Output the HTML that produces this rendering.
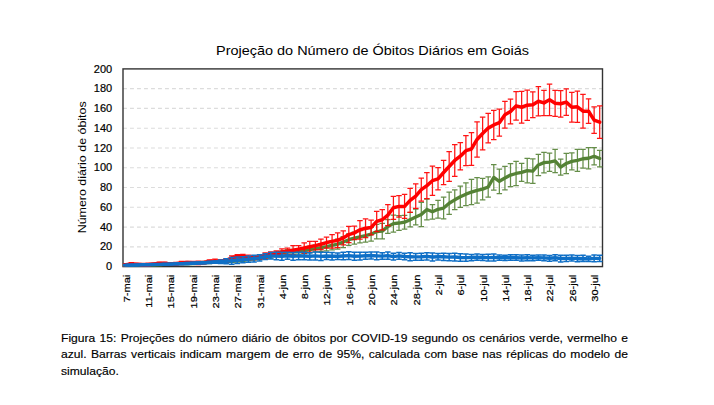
<!DOCTYPE html>
<html><head><meta charset="utf-8"><title>Figura 15</title>
<style>
html,body{margin:0;padding:0;background:#fff;}
body{width:714px;height:405px;position:relative;overflow:hidden;font-family:"Liberation Sans",sans-serif;}
svg text{font-family:"Liberation Sans",sans-serif;fill:#000;}
.yl{font-size:11px;stroke:#000;stroke-width:0.2px;}
.xl{font-size:9.8px;stroke:#000;stroke-width:0.2px;}
.yt{font-size:11.5px;}
.tt{font-size:13.6px;}
.cap{position:absolute;left:61.2px;top:329.5px;width:515.45px;font-size:11px;line-height:16.55px;color:#000;-webkit-text-stroke:0.15px #000;transform:scaleX(1.1);transform-origin:0 0;}
.cap div{text-align:justify;text-align-last:justify;white-space:nowrap;}
.cap div.last{text-align:left;text-align-last:left;}
</style></head><body>
<svg width="714" height="405" viewBox="0 0 714 405" style="position:absolute;left:0;top:0">
<line x1="123.0" x2="602.5" y1="246.83" y2="246.83" stroke="#dcdcdc" stroke-width="1.15" stroke-dasharray="3.9 3.1"/>
<line x1="123.0" x2="602.5" y1="227.06" y2="227.06" stroke="#dcdcdc" stroke-width="1.15" stroke-dasharray="3.9 3.1"/>
<line x1="123.0" x2="602.5" y1="207.29" y2="207.29" stroke="#dcdcdc" stroke-width="1.15" stroke-dasharray="3.9 3.1"/>
<line x1="123.0" x2="602.5" y1="187.52" y2="187.52" stroke="#dcdcdc" stroke-width="1.15" stroke-dasharray="3.9 3.1"/>
<line x1="123.0" x2="602.5" y1="167.75" y2="167.75" stroke="#dcdcdc" stroke-width="1.15" stroke-dasharray="3.9 3.1"/>
<line x1="123.0" x2="602.5" y1="147.98" y2="147.98" stroke="#dcdcdc" stroke-width="1.15" stroke-dasharray="3.9 3.1"/>
<line x1="123.0" x2="602.5" y1="128.21" y2="128.21" stroke="#dcdcdc" stroke-width="1.15" stroke-dasharray="3.9 3.1"/>
<line x1="123.0" x2="602.5" y1="108.44" y2="108.44" stroke="#dcdcdc" stroke-width="1.15" stroke-dasharray="3.9 3.1"/>
<line x1="123.0" x2="602.5" y1="88.67" y2="88.67" stroke="#dcdcdc" stroke-width="1.15" stroke-dasharray="3.9 3.1"/>
<rect x="123.0" y="68.9" width="479.5" height="197.70" fill="none" stroke="#333" stroke-width="1.4"/>
<path d="M125.79 264.22V266.02M123.04 264.22H128.54M123.04 266.02H128.54M131.36 263.96V265.78M128.61 263.96H134.11M128.61 265.78H134.11M136.94 263.81V265.66M134.19 263.81H139.69M134.19 265.66H139.69M142.51 263.79V265.67M139.76 263.79H145.26M139.76 265.67H145.26M148.09 263.83V265.74M145.34 263.83H150.84M145.34 265.74H150.84M153.67 263.78V265.74M150.92 263.78H156.42M150.92 265.74H156.42M159.24 263.58V265.57M156.49 263.58H161.99M156.49 265.57H161.99M164.82 263.25V265.28M162.07 263.25H167.57M162.07 265.28H167.57M170.39 262.90V264.98M167.64 262.90H173.14M167.64 264.98H173.14M175.97 262.65V264.79M173.22 262.65H178.72M173.22 264.79H178.72M181.54 262.53V264.73M178.79 262.53H184.29M178.79 264.73H184.29M187.12 262.45V264.71M184.37 262.45H189.87M184.37 264.71H189.87M192.69 262.28V264.60M189.94 262.28H195.44M189.94 264.60H195.44M198.27 261.93V264.33M195.52 261.93H201.02M195.52 264.33H201.02M203.85 261.45V263.93M201.10 261.45H206.60M201.10 263.93H206.60M209.42 260.94V263.50M206.67 260.94H212.17M206.67 263.50H212.17M215.00 260.51V263.17M212.25 260.51H217.75M212.25 263.17H217.75M220.57 260.19V262.96M217.82 260.19H223.32M217.82 262.96H223.32M226.15 259.90V262.78M223.40 259.90H228.90M223.40 262.78H228.90M231.72 259.48V262.49M228.97 259.48H234.47M228.97 262.49H234.47M237.30 258.88V262.02M234.55 258.88H240.05M234.55 262.02H240.05M242.88 258.11V261.40M240.12 258.11H245.62M240.12 261.40H245.62M248.45 257.29V260.75M245.70 257.29H251.20M245.70 260.75H251.20M254.03 256.53V260.17M251.28 256.53H256.78M251.28 260.17H256.78M259.60 255.84V259.68M256.85 255.84H262.35M256.85 259.68H262.35M265.18 255.14V259.19M262.43 255.14H267.93M262.43 259.19H267.93M270.75 253.82V258.22M268.00 253.82H273.50M268.00 258.22H273.50M276.33 251.87V255.83M273.58 251.87H279.08M273.58 255.83H279.08M281.90 250.78V255.13M279.15 250.78H284.65M279.15 255.13H284.65M287.48 249.60V254.34M284.73 249.60H290.23M284.73 254.34H290.23M293.06 249.30V254.44M290.31 249.30H295.81M290.31 254.44H295.81M298.63 248.51V254.05M295.88 248.51H301.38M295.88 254.05H301.38M304.21 247.62V253.55M301.46 247.62H306.96M301.46 253.55H306.96M309.78 246.43V252.76M307.03 246.43H312.53M307.03 252.76H312.53M315.36 245.15V251.87M312.61 245.15H318.11M312.61 251.87H318.11M320.93 243.86V251.38M318.18 243.86H323.68M318.18 251.38H323.68M326.51 242.58V250.88M323.76 242.58H329.26M323.76 250.88H329.26M332.08 240.90V249.99M329.33 240.90H334.83M329.33 249.99H334.83M337.66 239.22V249.10M334.91 239.22H340.41M334.91 249.10H340.41M343.24 236.65V247.52M340.49 236.65H345.99M340.49 247.52H345.99M348.81 233.98V245.45M346.06 233.98H351.56M346.06 245.45H351.56M354.39 232.20V244.06M351.64 232.20H357.14M351.64 244.06H357.14M359.96 230.52V242.97M357.21 230.52H362.71M357.21 242.97H362.71M365.54 229.04V242.09M362.79 229.04H368.29M362.79 242.09H368.29M371.11 227.26V241.10M368.36 227.26H373.86M368.36 241.10H373.86M376.69 224.29V238.92M373.94 224.29H379.44M373.94 238.92H379.44M382.26 223.40V238.82M379.51 223.40H385.01M379.51 238.82H385.01M387.84 219.55V233.39M385.09 219.55H390.59M385.09 233.39H390.59M393.42 215.20V232.00M390.67 215.20H396.17M390.67 232.00H396.17M398.99 215.59V230.42M396.24 215.59H401.74M396.24 230.42H401.74M404.57 215.30V229.14M401.82 215.30H407.32M401.82 229.14H407.32M410.14 212.43V226.86M407.39 212.43H412.89M407.39 226.86H412.89M415.72 209.17V224.98M412.97 209.17H418.47M412.97 224.98H418.47M421.29 202.45V226.57M418.54 202.45H424.04M418.54 226.57H424.04M426.87 199.18V219.75M424.12 199.18H429.62M424.12 219.75H429.62M432.44 204.62V219.05M429.69 204.62H435.19M429.69 219.05H435.19M438.02 200.37V218.16M435.27 200.37H440.77M435.27 218.16H440.77M443.60 197.21V218.95M440.85 197.21H446.35M440.85 218.95H446.35M449.17 192.17V214.31M446.42 192.17H451.92M446.42 214.31H451.92M454.75 189.89V209.66M452.00 189.89H457.50M452.00 209.66H457.50M460.32 186.04V207.39M457.57 186.04H463.07M457.57 207.39H463.07M465.90 182.78V205.51M463.15 182.78H468.65M463.15 205.51H468.65M471.47 179.41V204.72M468.72 179.41H474.22M468.72 204.72H474.22M477.05 177.54V203.24M474.30 177.54H479.80M474.30 203.24H479.80M482.62 178.43V199.78M479.88 178.43H485.38M479.88 199.78H485.38M488.20 176.84V197.01M485.45 176.84H490.95M485.45 197.01H490.95M493.78 164.69V190.19M491.03 164.69H496.53M491.03 190.19H496.53M499.35 169.04V193.55M496.60 169.04H502.10M496.60 193.55H502.10M504.93 166.27V189.79M502.18 166.27H507.68M502.18 189.79H507.68M510.50 163.50V186.63M507.75 163.50H513.25M507.75 186.63H513.25M516.08 161.42V185.54M513.33 161.42H518.83M513.33 185.54H518.83M521.65 163.40V181.39M518.90 163.40H524.40M518.90 181.39H524.40M527.23 158.26V182.97M524.48 158.26H529.98M524.48 182.97H529.98M532.81 158.95V183.27M530.06 158.95H535.56M530.06 183.27H535.56M538.38 154.41V175.56M535.63 154.41H541.13M535.63 175.56H541.13M543.96 152.43V172.79M541.21 152.43H546.71M541.21 172.79H546.71M549.53 153.12V171.31M546.78 153.12H552.28M546.78 171.31H552.28M555.11 149.27V172.59M552.36 149.27H557.86M552.36 172.59H557.86M560.68 159.05V175.06M557.93 159.05H563.43M557.93 175.06H563.43M566.26 153.42V173.58M563.51 153.42H569.01M563.51 173.58H569.01M571.83 152.92V169.92M569.08 152.92H574.58M569.08 169.92H574.58M577.41 149.27V171.41M574.66 149.27H580.16M574.66 171.41H580.16M582.99 149.46V168.05M580.24 149.46H585.74M580.24 168.05H585.74M588.56 147.58V168.94M585.81 147.58H591.31M585.81 168.94H591.31M594.14 147.58V164.98M591.39 147.58H596.89M591.39 164.98H596.89M599.71 150.35V166.76M596.96 150.35H602.46M596.96 166.76H602.46" stroke="#548235" stroke-width="1.25" fill="none" opacity="0.9"/>
<polyline points="125.79,265.12 131.36,264.87 136.94,264.73 142.51,264.73 148.09,264.78 153.67,264.76 159.24,264.58 164.82,264.27 170.39,263.94 175.97,263.72 181.54,263.63 187.12,263.58 192.69,263.44 198.27,263.13 203.85,262.69 209.42,262.22 215.00,261.84 220.57,261.58 226.15,261.34 231.72,260.99 237.30,260.45 242.88,259.76 248.45,259.02 254.03,258.35 259.60,257.76 265.18,257.17 270.75,256.02 276.33,253.85 281.90,252.96 287.48,251.97 293.06,251.87 298.63,251.28 304.21,250.59 309.78,249.60 315.36,248.51 320.93,247.62 326.51,246.73 332.08,245.45 337.66,244.16 343.24,242.09 348.81,239.71 354.39,238.13 359.96,236.75 365.54,235.56 371.11,234.18 376.69,231.61 382.26,231.11 387.84,226.47 393.42,223.60 398.99,223.01 404.57,222.22 410.14,219.65 415.72,217.08 421.29,214.51 426.87,209.46 432.44,211.84 438.02,209.27 443.60,208.08 449.17,203.24 454.75,199.78 460.32,196.71 465.90,194.14 471.47,192.07 477.05,190.39 482.62,189.10 488.20,186.93 493.78,177.44 499.35,181.29 504.93,178.03 510.50,175.06 516.08,173.48 521.65,172.40 527.23,170.62 532.81,171.11 538.38,164.98 543.96,162.61 549.53,162.21 555.11,160.93 560.68,167.06 566.26,163.50 571.83,161.42 577.41,160.34 582.99,158.75 588.56,158.26 594.14,156.28 599.71,158.56" stroke="#548235" stroke-width="3.3" fill="none" stroke-linejoin="round" stroke-linecap="round"/>
<path d="M125.79 263.50V265.75M123.04 263.50H128.54M123.04 265.75H128.54M131.36 262.66V265.45M128.61 262.66H134.11M128.61 265.45H134.11M136.94 263.28V265.08M134.19 263.28H139.69M134.19 265.08H139.69M142.51 263.48V265.84M139.76 263.48H145.26M139.76 265.84H145.26M148.09 263.19V266.09M145.34 263.19H150.84M145.34 266.09H150.84M153.67 263.01V264.92M150.92 263.01H156.42M150.92 264.92H156.42M159.24 262.19V264.68M156.49 262.19H161.99M156.49 264.68H161.99M164.82 262.10V265.13M162.07 262.10H167.57M162.07 265.13H167.57M170.39 262.99V265.04M167.64 262.99H173.14M167.64 265.04H173.14M175.97 262.46V265.13M173.22 262.46H178.72M173.22 265.13H178.72M181.54 261.41V264.61M178.79 261.41H184.29M178.79 264.61H184.29M187.12 261.39V263.63M184.37 261.39H189.87M184.37 263.63H189.87M192.69 261.25V264.15M189.94 261.25H195.44M189.94 264.15H195.44M198.27 261.23V264.66M195.52 261.23H201.02M195.52 264.66H201.02M203.85 261.25V263.75M201.10 261.25H206.60M201.10 263.75H206.60M209.42 259.99V263.17M206.67 259.99H212.17M206.67 263.17H212.17M215.00 259.22V262.94M212.25 259.22H217.75M212.25 262.94H217.75M220.57 259.80V262.63M217.82 259.80H223.32M217.82 262.63H223.32M226.15 258.67V262.22M223.40 258.67H228.90M223.40 262.22H228.90M231.72 255.88V260.00M228.97 255.88H234.47M228.97 260.00H234.47M237.30 254.64V257.89M234.55 254.64H240.05M234.55 257.89H240.05M242.88 254.27V258.31M240.12 254.27H245.62M240.12 258.31H245.62M248.45 255.14V259.77M245.70 255.14H251.20M245.70 259.77H251.20M254.03 255.84V259.65M251.28 255.84H256.78M251.28 259.65H256.78M259.60 254.52V259.19M256.85 254.52H262.35M256.85 259.19H262.35M265.18 252.88V258.18M262.43 252.88H267.93M262.43 258.18H267.93M270.75 251.81V256.48M268.00 251.81H273.50M268.00 256.48H273.50M276.33 250.98V256.52M273.58 250.98H279.08M273.58 256.52H279.08M281.90 248.81V255.13M279.15 248.81H284.65M279.15 255.13H284.65M287.48 248.02V254.34M284.73 248.02H290.23M284.73 254.34H290.23M293.06 245.74V254.84M290.31 245.74H295.81M290.31 254.84H295.81M298.63 245.74V252.46M295.88 245.74H301.38M295.88 252.46H301.38M304.21 242.88V253.16M301.46 242.88H306.96M301.46 253.16H306.96M309.78 241.49V252.17M307.03 241.49H312.53M307.03 252.17H312.53M315.36 241.49V249.80M312.61 241.49H318.11M312.61 249.80H318.11M320.93 239.02V249.50M318.18 239.02H323.68M318.18 249.50H323.68M326.51 237.14V248.02M323.76 237.14H329.26M323.76 248.02H329.26M332.08 234.57V248.21M329.33 234.57H334.83M329.33 248.21H334.83M337.66 232.89V247.72M334.91 232.89H340.41M334.91 247.72H340.41M343.24 230.92V244.95M340.49 230.92H345.99M340.49 244.95H345.99M348.81 226.47V242.68M346.06 226.47H351.56M346.06 242.68H351.56M354.39 226.17V239.61M351.64 226.17H357.14M351.64 239.61H357.14M359.96 220.63V239.02M357.21 220.63H362.71M357.21 239.02H362.71M365.54 218.76V237.74M362.79 218.76H368.29M362.79 237.74H368.29M371.11 220.14V234.77M368.36 220.14H373.86M368.36 234.77H373.86M376.69 211.34V231.51M373.94 211.34H379.44M373.94 231.51H379.44M382.26 209.66V229.83M379.51 209.66H385.01M379.51 229.83H385.01M387.84 204.52V225.68M385.09 204.52H390.59M385.09 225.68H390.59M393.42 196.32V219.25M390.67 196.32H396.17M390.67 219.25H396.17M398.99 195.72V217.08M396.24 195.72H401.74M396.24 217.08H401.74M404.57 194.34V218.46M401.82 194.34H407.32M401.82 218.46H407.32M410.14 188.31V212.43M407.39 188.31H412.89M407.39 212.43H412.89M415.72 183.76V208.48M412.97 183.76H418.47M412.97 208.48H418.47M421.29 178.23V201.16M418.54 178.23H424.04M418.54 201.16H424.04M426.87 172.59V198.69M424.12 172.59H429.62M424.12 198.69H429.62M432.44 166.07V195.33M429.69 166.07H435.19M429.69 195.33H435.19M438.02 167.65V189.99M435.27 167.65H440.77M435.27 189.99H440.77M443.60 160.44V184.55M440.85 160.44H446.35M440.85 184.55H446.35M449.17 151.64V181.29M446.42 151.64H451.92M446.42 181.29H451.92M454.75 144.52V176.35M452.00 144.52H457.50M452.00 176.35H457.50M460.32 142.54V169.83M457.57 142.54H463.07M457.57 169.83H463.07M465.90 135.72V165.58M463.15 135.72H468.65M463.15 165.58H468.65M471.47 132.66V165.28M468.72 132.66H474.22M468.72 165.28H474.22M477.05 121.88V157.07M474.30 121.88H479.80M474.30 157.07H479.80M482.62 117.14V149.76M479.88 117.14H485.38M479.88 149.76H485.38M488.20 113.28V142.94M485.45 113.28H490.95M485.45 142.94H490.95M493.78 110.32V139.58M491.03 110.32H496.53M491.03 139.58H496.53M499.35 109.23V136.12M496.60 109.23H502.10M496.60 136.12H502.10M504.93 101.32V128.01M502.18 101.32H507.68M502.18 128.01H507.68M510.50 99.15V123.86M507.75 99.15H513.25M507.75 123.86H513.25M516.08 91.54V120.20M513.33 91.54H518.83M513.33 120.20H518.83M521.65 91.44V123.07M518.90 91.44H524.40M518.90 123.07H524.40M527.23 90.05V120.30M524.48 90.05H529.98M524.48 120.30H529.98M532.81 91.83V117.53M530.06 91.83H535.56M530.06 117.53H535.56M538.38 86.59V115.85M535.63 86.59H541.13M535.63 115.85H541.13M543.96 90.25V115.56M541.21 90.25H546.71M541.21 115.56H546.71M549.53 84.02V115.66M546.78 84.02H552.28M546.78 115.66H552.28M555.11 90.25V116.35M552.36 90.25H557.86M552.36 116.35H557.86M560.68 90.55V117.04M557.93 90.55H563.43M557.93 117.04H563.43M566.26 88.97V115.26M563.51 88.97H569.01M563.51 115.26H569.01M571.83 92.43V122.08M569.08 92.43H574.58M569.08 122.08H574.58M577.41 91.24V122.48M574.66 91.24H580.16M574.66 122.48H580.16M582.99 94.40V128.01M580.24 94.40H585.74M580.24 128.01H585.74M588.56 98.95V123.47M585.81 98.95H591.31M585.81 123.47H591.31M594.14 106.76V133.45M591.39 106.76H596.89M591.39 133.45H596.89M599.71 105.87V138.49M596.96 105.87H602.46M596.96 138.49H602.46" stroke="#ff0000" stroke-width="1.25" fill="none" opacity="0.92"/>
<polyline points="125.79,264.62 131.36,264.06 136.94,264.18 142.51,264.66 148.09,264.64 153.67,263.97 159.24,263.44 164.82,263.62 170.39,264.01 175.97,263.80 181.54,263.01 187.12,262.51 192.69,262.70 198.27,262.95 203.85,262.50 209.42,261.58 215.00,261.08 220.57,261.22 226.15,260.45 231.72,257.94 237.30,256.27 242.88,256.29 248.45,257.46 254.03,257.75 259.60,256.86 265.18,255.53 270.75,254.14 276.33,253.75 281.90,251.97 287.48,251.18 293.06,250.29 298.63,249.10 304.21,248.02 309.78,246.83 315.36,245.64 320.93,244.26 326.51,242.58 332.08,241.39 337.66,240.31 343.24,237.93 348.81,234.57 354.39,232.89 359.96,229.83 365.54,228.25 371.11,227.46 376.69,221.43 382.26,219.75 387.84,215.10 393.42,207.78 398.99,206.40 404.57,206.40 410.14,200.37 415.72,196.12 421.29,189.69 426.87,185.64 432.44,180.70 438.02,178.82 443.60,172.49 449.17,166.46 454.75,160.44 460.32,156.18 465.90,150.65 471.47,148.97 477.05,139.48 482.62,133.45 488.20,128.11 493.78,124.95 499.35,122.67 504.93,114.67 510.50,111.50 516.08,105.87 521.65,107.25 527.23,105.18 532.81,104.68 538.38,101.22 543.96,102.90 549.53,99.84 555.11,103.30 560.68,103.79 566.26,102.11 571.83,107.25 577.41,106.86 582.99,111.21 588.56,111.21 594.14,120.10 599.71,122.18" stroke="#ff0000" stroke-width="3.5" fill="none" stroke-linejoin="round" stroke-linecap="round"/>
<path d="M125.79 264.48V265.75M123.04 264.48H128.54M123.04 265.75H128.54M131.36 264.38V265.67M128.61 264.38H134.11M128.61 265.67H134.11M136.94 264.26V265.59M134.19 264.26H139.69M134.19 265.59H139.69M142.51 264.14V265.50M139.76 264.14H145.26M139.76 265.50H145.26M148.09 264.00V265.40M145.34 264.00H150.84M145.34 265.40H150.84M153.67 263.85V265.29M150.92 263.85H156.42M150.92 265.29H156.42M159.24 263.68V265.17M156.49 263.68H161.99M156.49 265.17H161.99M164.82 263.50V265.04M162.07 263.50H167.57M162.07 265.04H167.57M170.39 263.30V264.89M167.64 263.30H173.14M167.64 264.89H173.14M175.97 263.09V264.74M173.22 263.09H178.72M173.22 264.74H178.72M181.54 262.85V264.57M178.79 262.85H184.29M178.79 264.57H184.29M187.12 262.60V264.38M184.37 262.60H189.87M184.37 264.38H189.87M192.69 262.31V264.18M189.94 262.31H195.44M189.94 264.18H195.44M198.27 262.01V263.96M195.52 262.01H201.02M195.52 263.96H201.02M203.85 261.67V263.71M201.10 261.67H206.60M201.10 263.71H206.60M209.42 261.31V263.45M206.67 261.31H212.17M206.67 263.45H212.17M215.00 260.91V263.16M212.25 260.91H217.75M212.25 263.16H217.75M220.57 259.88V263.43M217.82 259.88H223.32M217.82 263.43H223.32M226.15 258.67V263.81M223.40 258.67H228.90M223.40 263.81H228.90M231.72 257.44V264.15M228.97 257.44H234.47M228.97 264.15H234.47M237.30 257.01V263.60M234.55 257.01H240.05M234.55 263.60H240.05M242.88 256.83V262.70M240.12 256.83H245.62M240.12 262.70H245.62M248.45 256.09V262.27M245.70 256.09H251.20M245.70 262.27H251.20M254.03 255.13V261.94M251.28 255.13H256.78M251.28 261.94H256.78M259.60 254.66V261.01M256.85 254.66H262.35M256.85 261.01H262.35M265.18 253.70V259.53M262.43 253.70H267.93M262.43 259.53H267.93M270.75 252.61V259.04M268.00 252.61H273.50M268.00 259.04H273.50M276.33 252.36V259.80M273.58 252.36H279.08M273.58 259.80H279.08M281.90 252.24V260.23M279.15 252.24H284.65M279.15 260.23H284.65M287.48 252.30V259.28M284.73 252.30H290.23M284.73 259.28H290.23M293.06 252.47V260.14M290.31 252.47H295.81M290.31 260.14H295.81M298.63 252.15V259.63M295.88 252.15H301.38M295.88 259.63H301.38M304.21 252.32V259.77M301.46 252.32H306.96M301.46 259.77H306.96M309.78 252.70V259.94M307.03 252.70H312.53M307.03 259.94H312.53M315.36 251.96V259.88M312.61 251.96H318.11M312.61 259.88H318.11M320.93 252.28V260.39M318.18 252.28H323.68M318.18 260.39H323.68M326.51 252.35V259.62M323.76 252.35H329.26M323.76 259.62H329.26M332.08 252.50V260.11M329.33 252.50H334.83M329.33 260.11H334.83M337.66 253.02V259.55M334.91 253.02H340.41M334.91 259.55H340.41M343.24 252.15V259.83M340.49 252.15H345.99M340.49 259.83H345.99M348.81 251.85V259.42M346.06 251.85H351.56M346.06 259.42H351.56M354.39 252.16V260.36M351.64 252.16H357.14M351.64 260.36H357.14M359.96 252.23V260.11M357.21 252.23H362.71M357.21 260.11H362.71M365.54 252.35V259.28M362.79 252.35H368.29M362.79 259.28H368.29M371.11 251.97V259.08M368.36 251.97H373.86M368.36 259.08H373.86M376.69 252.05V259.66M373.94 252.05H379.44M373.94 259.66H379.44M382.26 252.86V259.33M379.51 252.86H385.01M379.51 259.33H385.01M387.84 252.04V259.29M385.09 252.04H390.59M385.09 259.29H390.59M393.42 253.21V259.93M390.67 253.21H396.17M390.67 259.93H396.17M398.99 252.61V259.25M396.24 252.61H401.74M396.24 259.25H401.74M404.57 253.25V259.78M401.82 253.25H407.32M401.82 259.78H407.32M410.14 252.83V260.63M407.39 252.83H412.89M407.39 260.63H412.89M415.72 253.51V260.16M412.97 253.51H418.47M412.97 260.16H418.47M421.29 253.31V260.18M418.54 253.31H424.04M418.54 260.18H424.04M426.87 252.82V259.94M424.12 252.82H429.62M424.12 259.94H429.62M432.44 253.03V261.01M429.69 253.03H435.19M429.69 261.01H435.19M438.02 253.46V260.03M435.27 253.46H440.77M435.27 260.03H440.77M443.60 253.17V260.39M440.85 253.17H446.35M440.85 260.39H446.35M449.17 253.46V260.73M446.42 253.46H451.92M446.42 260.73H451.92M454.75 253.16V260.88M452.00 253.16H457.50M452.00 260.88H457.50M460.32 253.80V261.27M457.57 253.80H463.07M457.57 261.27H463.07M465.90 253.91V261.32M463.15 253.91H468.65M463.15 261.32H468.65M471.47 254.46V260.68M468.72 254.46H474.22M468.72 260.68H474.22M477.05 254.04V260.37M474.30 254.04H479.80M474.30 260.37H479.80M482.62 254.44V260.53M479.88 254.44H485.38M479.88 260.53H485.38M488.20 254.20V261.09M485.45 254.20H490.95M485.45 261.09H490.95M493.78 254.01V260.90M491.03 254.01H496.53M491.03 260.90H496.53M499.35 254.97V260.28M496.60 254.97H502.10M496.60 260.28H502.10M504.93 255.14V260.50M502.18 255.14H507.68M502.18 260.50H507.68M510.50 254.71V260.16M507.75 254.71H513.25M507.75 260.16H513.25M516.08 254.85V260.31M513.33 254.85H518.83M513.33 260.31H518.83M521.65 255.09V260.99M518.90 255.09H524.40M518.90 260.99H524.40M527.23 254.76V260.85M524.48 254.76H529.98M524.48 260.85H529.98M532.81 255.15V260.65M530.06 255.15H535.56M530.06 260.65H535.56M538.38 255.12V260.17M535.63 255.12H541.13M535.63 260.17H541.13M543.96 254.94V260.72M541.21 254.94H546.71M541.21 260.72H546.71M549.53 255.43V261.13M546.78 255.43H552.28M546.78 261.13H552.28M555.11 254.69V260.74M552.36 254.69H557.86M552.36 260.74H557.86M560.68 255.17V261.91M557.93 255.17H563.43M557.93 261.91H563.43M566.26 255.20V261.47M563.51 255.20H569.01M563.51 261.47H569.01M571.83 255.11V261.06M569.08 255.11H574.58M569.08 261.06H574.58M577.41 255.61V261.75M574.66 255.61H580.16M574.66 261.75H580.16M582.99 255.31V261.56M580.24 255.31H585.74M580.24 261.56H585.74M588.56 256.32V261.46M585.81 256.32H591.31M585.81 261.46H591.31M594.14 255.07V261.71M591.39 255.07H596.89M591.39 261.71H596.89M599.71 255.14V261.57M596.96 255.14H602.46M596.96 261.57H602.46" stroke="#0f6fc6" stroke-width="1.5" fill="none" opacity="1.0"/>
<polyline points="125.79,265.12 131.36,265.03 136.94,264.93 142.51,264.82 148.09,264.70 153.67,264.57 159.24,264.42 164.82,264.27 170.39,264.10 175.97,263.91 181.54,263.71 187.12,263.49 192.69,263.25 198.27,262.98 203.85,262.69 209.42,262.38 215.00,262.03 220.57,261.66 226.15,261.24 231.72,260.79 237.30,260.30 242.88,259.77 248.45,259.18 254.03,258.54 259.60,257.84 265.18,256.62 270.75,255.83 276.33,256.08 281.90,256.23 287.48,255.79 293.06,256.30 298.63,255.89 304.21,256.04 309.78,256.32 315.36,255.92 320.93,256.34 326.51,255.98 332.08,256.31 337.66,256.29 343.24,255.99 348.81,255.63 354.39,256.26 359.96,256.17 365.54,255.81 371.11,255.53 376.69,255.86 382.26,256.10 387.84,255.66 393.42,256.57 398.99,255.93 404.57,256.52 410.14,256.73 415.72,256.83 421.29,256.75 426.87,256.38 432.44,257.02 438.02,256.75 443.60,256.78 449.17,257.10 454.75,257.02 460.32,257.53 465.90,257.62 471.47,257.57 477.05,257.20 482.62,257.48 488.20,257.64 493.78,257.46 499.35,257.63 504.93,257.82 510.50,257.44 516.08,257.58 521.65,258.04 527.23,257.80 532.81,257.90 538.38,257.64 543.96,257.83 549.53,258.28 555.11,257.72 560.68,258.54 566.26,258.33 571.83,258.09 577.41,258.68 582.99,258.44 588.56,258.89 594.14,258.39 599.71,258.36" stroke="#0f6fc6" stroke-width="3.4" fill="none" stroke-linejoin="round" stroke-linecap="round"/>
<text x="112.2" y="270.20" text-anchor="end" class="yl">0</text>
<text x="112.2" y="250.43" text-anchor="end" class="yl">20</text>
<text x="112.2" y="230.66" text-anchor="end" class="yl">40</text>
<text x="112.2" y="210.89" text-anchor="end" class="yl">60</text>
<text x="112.2" y="191.12" text-anchor="end" class="yl">80</text>
<text x="112.2" y="171.35" text-anchor="end" class="yl">100</text>
<text x="112.2" y="151.58" text-anchor="end" class="yl">120</text>
<text x="112.2" y="131.81" text-anchor="end" class="yl">140</text>
<text x="112.2" y="112.04" text-anchor="end" class="yl">160</text>
<text x="112.2" y="92.27" text-anchor="end" class="yl">180</text>
<text x="112.2" y="72.50" text-anchor="end" class="yl">200</text>
<text transform="translate(129.69,274.7) rotate(-90) scale(1.13,1)" text-anchor="end" class="xl">7-mai</text>
<text transform="translate(151.99,274.7) rotate(-90) scale(1.13,1)" text-anchor="end" class="xl">11-mai</text>
<text transform="translate(174.29,274.7) rotate(-90) scale(1.13,1)" text-anchor="end" class="xl">15-mai</text>
<text transform="translate(196.59,274.7) rotate(-90) scale(1.13,1)" text-anchor="end" class="xl">19-mai</text>
<text transform="translate(218.90,274.7) rotate(-90) scale(1.13,1)" text-anchor="end" class="xl">23-mai</text>
<text transform="translate(241.20,274.7) rotate(-90) scale(1.13,1)" text-anchor="end" class="xl">27-mai</text>
<text transform="translate(263.50,274.7) rotate(-90) scale(1.13,1)" text-anchor="end" class="xl">31-mai</text>
<text transform="translate(285.80,274.7) rotate(-90) scale(1.13,1)" text-anchor="end" class="xl">4-jun</text>
<text transform="translate(308.11,274.7) rotate(-90) scale(1.13,1)" text-anchor="end" class="xl">8-jun</text>
<text transform="translate(330.41,274.7) rotate(-90) scale(1.13,1)" text-anchor="end" class="xl">12-jun</text>
<text transform="translate(352.71,274.7) rotate(-90) scale(1.13,1)" text-anchor="end" class="xl">16-jun</text>
<text transform="translate(375.01,274.7) rotate(-90) scale(1.13,1)" text-anchor="end" class="xl">20-jun</text>
<text transform="translate(397.32,274.7) rotate(-90) scale(1.13,1)" text-anchor="end" class="xl">24-jun</text>
<text transform="translate(419.62,274.7) rotate(-90) scale(1.13,1)" text-anchor="end" class="xl">28-jun</text>
<text transform="translate(441.92,274.7) rotate(-90) scale(1.13,1)" text-anchor="end" class="xl">2-jul</text>
<text transform="translate(464.22,274.7) rotate(-90) scale(1.13,1)" text-anchor="end" class="xl">6-jul</text>
<text transform="translate(486.52,274.7) rotate(-90) scale(1.13,1)" text-anchor="end" class="xl">10-jul</text>
<text transform="translate(508.83,274.7) rotate(-90) scale(1.13,1)" text-anchor="end" class="xl">14-jul</text>
<text transform="translate(531.13,274.7) rotate(-90) scale(1.13,1)" text-anchor="end" class="xl">18-jul</text>
<text transform="translate(553.43,274.7) rotate(-90) scale(1.13,1)" text-anchor="end" class="xl">22-jul</text>
<text transform="translate(575.73,274.7) rotate(-90) scale(1.13,1)" text-anchor="end" class="xl">26-jul</text>
<text transform="translate(598.04,274.7) rotate(-90) scale(1.13,1)" text-anchor="end" class="xl">30-jul</text>
<text transform="translate(86.2,167.3) rotate(-90)" text-anchor="middle" class="yt" textLength="132" lengthAdjust="spacingAndGlyphs">Número diário de óbitos</text>
<text x="372.6" y="54.5" text-anchor="middle" class="tt" textLength="313" lengthAdjust="spacingAndGlyphs">Projeção do Número de Óbitos Diários em Goiás</text>
</svg>
<div class="cap"><div>Figura 15: Projeções do número diário de óbitos por COVID-19 segundo os cenários verde, vermelho e</div><div>azul. Barras verticais indicam margem de erro de 95%, calculada com base nas réplicas do modelo de</div><div class="last">simulação.</div></div>
</body></html>
